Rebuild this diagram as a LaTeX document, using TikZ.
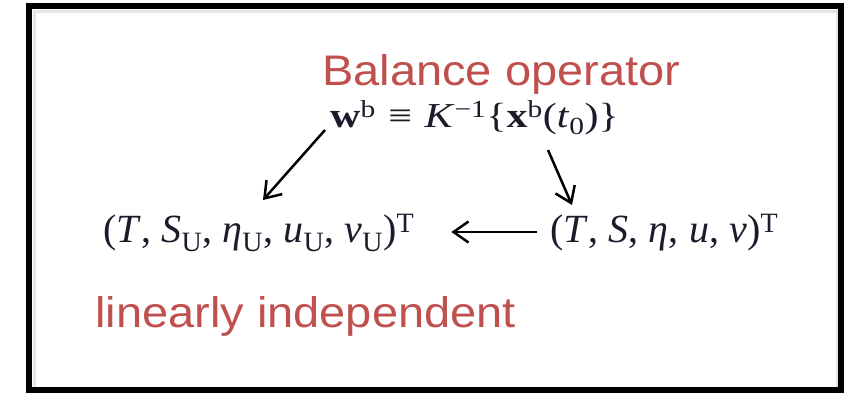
\documentclass[tikz,border=0pt]{standalone}
\usepackage{fontspec}
\usepackage{graphicx}
\setmainfont{Liberation Serif}
\newfontfamily\labelfont{Liberation Sans}
\usetikzlibrary{arrows.meta,calc}
\definecolor{redlabel}{HTML}{C0504D}
\definecolor{mathink}{HTML}{1B1B2A}
\newcommand{\vsquash}[1]{\scalebox{1}[0.91]{#1}}
\newcommand{\vsep}{,\hspace{0.26em}}
\tikzset{
 frame/.style={draw=black,line width=5.5pt},
 innershade/.style={draw=black!10,line width=3pt},
 caption/.style={font=\labelfont\fontsize{47}{50}\selectfont,text=redlabel,inner sep=0pt,anchor=base west},
 formula/.style={text=mathink,inner sep=0pt,anchor=base west},
 link/.style={-{Straight Barb[length=15pt,width=21pt]},draw=black,line width=2.5pt},
}

\begin{document}
\begin{tikzpicture}[x=1pt,y=-1pt]
\useasboundingbox (0,0) rectangle (851,392);

% framed panel
\draw[innershade] (34,11) rectangle (837,388);
\draw[frame] (29,6) rectangle (841,390);

% labels
\node[caption] (balance) at (322,85) {\vsquash{Balance operator}};
\node[caption] (indep) at (95,327) {\vsquash{linearly independent}};

% equations
\node[formula,font=\fontsize{35}{38}\selectfont] (wb) at (330,127)
  {\scalebox{1.2}[1]{\textbf{w}\textsuperscript{b}\hspace{0.3em}≡\hspace{0.3em}\textit{K}\textsuperscript{−1}\{\textbf{x}\textsuperscript{b}(\textit{t}\textsubscript{0})\}}};
\node[formula,font=\fontsize{40}{44}\selectfont] (uvec) at (103,242)
  {(\textit{T}\vsep\textit{S}\textsubscript{U}\vsep\textit{η}\textsubscript{U}\vsep\textit{u}\textsubscript{U}\vsep\textit{v}\textsubscript{U})\textsuperscript{T}};
\node[formula,font=\fontsize{40}{44}\selectfont] (svec) at (550,242)
  {(\textit{T}\vsep\textit{S}\vsep\textit{η}\vsep\textit{u}\vsep\textit{v})\textsuperscript{T}};

% arrows
\draw[link] ($(wb.base west)+(-5,3)$) -- ($(uvec.base west)+(160,-42)$);
\draw[link] ($(wb.base west)+(218,23)$) -- ($(svec.base west)+(22,-37)$);
\draw[link] ($(svec.base west)+(-13,-10)$) -- ($(uvec.base east)+(37,-10)$);

\end{tikzpicture}
\end{document}
